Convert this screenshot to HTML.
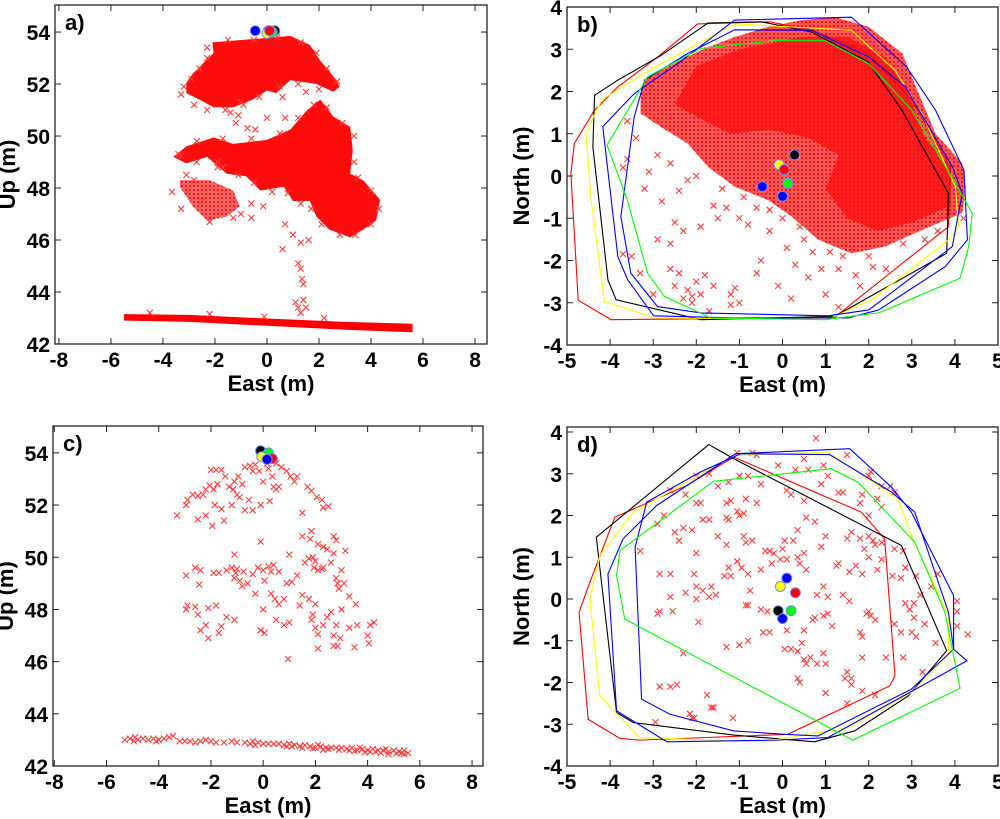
<!DOCTYPE html>
<html><head><meta charset="utf-8"><style>
html,body{margin:0;padding:0;background:#fff;}
svg{display:block;font-family:"Liberation Sans",Arial,sans-serif;}
.tk{font-size:21px;font-weight:bold;fill:#000;}
.at{font-size:22px;font-weight:bold;fill:#000;}
</style></head><body>
<svg id="chart" width="1000" height="819" viewBox="0 0 1000 819" xmlns="http://www.w3.org/2000/svg">
<defs>
<pattern id="xp" width="4" height="4" patternUnits="userSpaceOnUse"><path d="M0.5,0.5L3.5,3.5M3.5,0.5L0.5,3.5" stroke="#ff0000" stroke-width="0.9"/></pattern>
</defs>
</svg>
<script>
// ---------- Panel a (side view, dense) ----------
const aCrownTop=[[-2.1,53.6],[0.9,53.85],[1.65,53.5],[2.05,52.9],[2.55,52.3],[2.8,51.9],[2.55,51.7],[1.9,52.0],[0.9,52.15],[0.35,51.65],[0,51.75],[-0.55,51.4],[-1.3,51.1],[-2.05,51.1],[-2.6,51.4],[-3.1,51.65],[-3.1,52.05],[-2.85,52.4],[-2.45,52.8],[-2.05,53.2]];
const aCrownMid=[[-3.6,49.2],[-3.1,49.6],[-2.05,49.95],[-1.3,49.7],[0,49.85],[0.9,50.25],[1.55,51.0],[2.05,51.4],[2.55,50.75],[3.2,50.35],[3.3,49.45],[3.2,48.55],[3.7,48.3],[4.35,47.55],[4.2,46.75],[3.7,46.4],[3.2,46.1],[2.4,46.4],[1.9,46.9],[1.65,47.5],[1.0,47.5],[0.65,48.05],[-0.25,47.9],[-0.8,48.45],[-1.55,48.55],[-2.3,49.2],[-3.1,48.95]];
const aCrownLow=[[-3.35,48.3],[-2.2,48.3],[-1.3,47.9],[-1.05,47.3],[-1.55,46.9],[-2.3,46.75],[-2.85,47.3],[-3.35,48.05]];
const aGround=[[-5.5,43.15],[-3,43.12],[0,42.98],[3,42.85],[5.6,42.78],[5.6,42.45],[3,42.55],[0,42.7],[-3,42.85],[-5.5,42.9]];
const aPts=[[-3.65,47.85],[-3.3,47.2],[-3.1,48.5],[-2.8,48.3],[-2.5,47.5],[-1.0,47.0],[-0.6,46.85],[-1.3,46.85],[-2.2,46.7],[0.7,46.6],[1.0,46.2],[1.3,45.9],[1.6,46.0],[0.6,45.65],[-0.15,47.3],[-0.6,47.4],[-1.2,50.5],[-1.1,50.8],[-0.75,50.3],[-0.45,50.25],[0,50.7],[0.6,51.5],[0.7,50.7],[1.5,51.7],[-1.0,51.3],[-1.4,50.9],[-3.3,51.6],[-3.3,49.25],[-1.9,49.0],[-1.7,48.8],[1.2,45.1],[1.3,44.9],[1.35,44.5],[1.4,44.3],[1.1,43.6],[1.4,43.7],[1.5,43.4],[1.3,43.2],[1.2,43.4],[-4.5,43.2],[-2.2,43.15],[2.2,43.0],[-0.1,43.05],
[-2.3,53.0],[-2.6,52.6],[-2.9,52.2],[-3.2,51.9],[-2.8,51.2],[-2.3,51.0],[-1.6,51.0],[-0.9,51.2],[-0.3,51.5],[0.5,51.9],[1.2,52.0],[2.0,51.8],[2.7,52.1],[2.3,52.6],[1.9,53.2],[1.3,53.6],[0.4,53.8],[-0.5,53.7],[-1.5,53.7],[-2.3,53.4],
[-3.4,49.3],[-2.7,49.8],[-1.7,49.9],[-0.6,49.9],[0.5,50.1],[1.2,50.7],[1.8,51.2],[2.3,51.1],[2.9,50.5],[3.35,50.0],[3.35,49.0],[3.5,48.4],[4.0,47.9],[4.3,47.2],[4.0,46.6],[3.4,46.2],[2.8,46.2],[2.1,46.6],[1.7,47.2],[1.3,47.4],[0.8,47.8],[0.2,47.85],[-0.5,48.2],[-1.1,48.5],[-1.9,48.8],[-2.7,49.0]];
const aDots=[[-0.45,54.05,'#0000ff'],[0.05,54.05,'#0000ff'],[0.3,54.05,'#000000'],[0,53.95,'#ffff00'],[0.2,54.0,'#00ff00'],[0.1,54.05,'#ff0000']];

// ---------- Panel b (top view, dense) ----------
const bDense=[[-3.2,2.27],[-2.67,2.58],[-1.89,2.98],[-1.11,3.29],[-0.33,3.53],[0.44,3.69],[1.22,3.76],[2.0,3.53],[2.78,2.9],[3.16,1.95],[3.55,1.0],[4.17,0.3],[4.25,-0.25],[4.17,-0.88],[3.78,-1.04],[3.08,-1.35],[2.38,-1.67],[1.6,-1.83],[0.83,-1.51],[0.21,-0.96],[-0.33,-0.57],[-1.11,-0.25],[-1.73,0.22],[-2.2,0.77],[-2.82,1.16],[-3.29,1.48],[-3.29,1.95]];
const bCore=[[-2.0,2.6],[-1.0,3.0],[0.5,3.3],[1.5,3.3],[2.4,2.8],[2.9,2.0],[3.3,0.9],[3.9,0.2],[3.9,-0.7],[3.0,-1.1],[2.2,-1.3],[1.5,-1.0],[1.0,-0.3],[1.3,0.5],[0.6,0.9],[-0.3,1.1],[-1.2,1.0],[-1.8,1.3],[-2.5,1.7]];
const bPts=[[-2.2,-2.7],[-2.1,-2.85],[-1.2,-2.8],[-1.2,-3.05],[-2.4,-2.3],[-2.6,-2.2],[-1.8,-2.35],[-3.5,-1.9],[-3.7,-1.85],[-3.3,-2.3],[-2.9,-1.5],[-2.6,-1.6],[-2.3,-1.3],[-1.9,-1.2],[-1.5,-1.0],[-1.3,-0.75],[-1.0,-1.0],[-0.6,-0.75],[-0.8,-1.15],[-0.3,-0.8],[-2.8,-0.6],[-2.4,-0.35],[-3.2,-0.3],[-3.1,0.1],[-3.6,0.4],[-3.7,0.2],[-2.5,-2.6],[-1.6,-2.6],[-1.7,-3.2],[-1.0,-3.0],[-0.6,-2.3],[-0.5,-2.0],[-0.1,-2.6],[0.1,-1.7],[0.3,-2.1],[0.6,-2.4],[0.9,-2.2],[1.0,-2.8],[1.3,-2.2],[1.7,-2.35],[2.1,-2.15],[2.4,-2.2],[-2.1,-3.0],[-1.9,-2.8],[-3.0,-2.8],[-2.5,-1.1],[-2.2,-0.1],[-1.6,-0.7],[-2.0,-2.5],[-2.3,-2.9],[-1.1,-2.65],[-0.3,-1.3],[0.4,-1.2],[0.7,-1.8],[1.4,-1.9],[2.8,-1.6],[3.3,-1.5],[-3.4,0.9],[-3.6,1.3],[-2.9,0.5],[1.8,-2.6],[0.2,-2.9],[1.3,-3.1],[-2.6,0.3],[-2.0,0.0],[-1.4,-0.3],[-0.9,-0.5],[0.0,-1.0],[0.5,-1.5],[1.1,-1.8],[2.0,-1.9],[3.6,-1.3],[4.2,-1.0]];
const bDots=[[0.28,0.5,'#000000'],[-0.08,0.27,'#ffff00'],[0.04,0.15,'#ff0000'],[0.12,-0.17,'#00ff00'],[-0.47,-0.25,'#0000ff'],[0,-0.48,'#0000ff']];
const bHullRed=[[-1.97,3.6],[-0.3,3.65],[0.7,3.45],[2.0,2.9],[3.0,1.8],[3.9,0.2],[3.85,-1.2],[1.2,-3.35],[-3.98,-3.4],[-4.74,-2.94],[-4.91,0.06],[-4.83,0.77],[-4.36,1.56],[-3.82,2.11],[-2.89,2.82]];
const bHullBlack=[[-4.36,1.91],[-3.82,2.27],[-2.81,2.86],[-1.73,3.62],[-0.49,3.65],[0.67,3.41],[1.99,2.7],[2.77,1.56],[3.85,-0.41],[3.81,-1.83],[1.22,-3.32],[-1.89,-3.4],[-3.86,-2.93],[-4.05,-2.46],[-4.4,0.69]];
const bHullYellow=[[-4.2,1.8],[-2.96,2.58],[-1.11,3.6],[1.6,3.45],[2.61,2.5],[3.23,1.48],[4.01,-0.25],[4.09,-1.2],[3.85,-1.51],[2.07,-2.93],[1.06,-3.39],[-2.97,-3.36],[-4.13,-2.97],[-4.44,-0.57],[-4.56,1.0]];
const bHullBlue1=[[-1.11,3.69],[1.6,3.76],[2.88,2.58],[3.55,1.56],[4.21,0.14],[4.29,-1.51],[3.78,-2.14],[2.23,-3.17],[1.53,-3.36],[-1.11,-3.36],[-2.99,-3.31],[-3.59,-2.46],[-3.82,-1.91],[-4.17,1.17],[-3.44,1.95],[-2.43,2.66]];
const bHullBlue2=[[-3.2,2.27],[-3.44,1.4],[-3.75,-0.96],[-3.52,-2.3],[-2.9,-3.09],[-1.89,-3.24],[1.06,-3.31],[2.0,-3.17],[3.94,-1.67],[4.17,-0.41],[3.94,0.22],[2.85,2.11],[2.0,2.82],[0.67,3.45],[-1.11,3.46],[-2.2,2.9]];
const bHullGreen=[[-4.07,0.73],[-3.13,2.35],[-1.89,3.02],[-0.1,3.21],[0.98,3.21],[2.0,2.66],[3.0,1.56],[4.01,-0.17],[4.4,-0.88],[4.32,-1.67],[4.12,-2.42],[2.23,-3.24],[0.98,-3.4],[-1.66,-3.36],[-2.74,-2.85],[-3.13,-2.3],[-3.6,-0.57]];

// ---------- Panel c (side view, sparse) ----------
const cPts=[[-3.3,51.6],[-2.95,52.0],[-2.9,52.2],[-2.7,52.4],[-2.5,52.35],[-2.3,52.4],[-2.2,52.6],[-2.05,52.75],[-1.9,52.6],[-1.75,52.8],[-2.0,53.35],[-1.8,53.35],[-1.6,53.35],[-1.45,53.1],[-1.3,52.7],[-1.15,52.6],[-1.0,52.4],[-0.9,52.3],[-0.7,53.45],[-0.5,53.5],[-0.3,53.55],[-0.15,53.3],[0.0,52.9],[0.2,53.4],[0.35,53.1],[0.5,52.6],[0.7,53.45],[0.9,53.3],[1.05,53.1],[1.2,52.9],[1.3,53.1],[1.7,52.7],[1.85,52.55],[2.05,52.3],[2.25,52.2],[2.3,51.9],[2.5,51.95],[1.5,51.7],[-2.5,51.45],[-2.2,51.6],[-1.95,51.2],[-1.5,51.4],[-1.2,52.0],[-0.7,51.8],[-0.4,51.8],[-0.1,52.0],[0.25,52.15],[-0.55,52.2],[-1.85,52.0],[-1.6,51.85],[-0.8,52.8],[-0.4,53.3],[0.6,52.7],[0.4,52.7],[0.15,53.6],[0.5,53.6],[-1.1,52.9],[-0.95,53.1],
[-2.95,49.3],[-2.6,49.6],[-2.4,49.5],[-2.45,48.95],[-1.9,49.4],[-1.7,49.4],[-1.4,49.5],[-1.2,49.6],[-1.05,49.4],[-0.9,49.1],[-1.1,49.2],[-0.8,48.9],[-0.6,49.0],[-0.4,49.35],[-0.2,49.6],[0,49.5],[0.2,49.65],[0.4,49.7],[0.6,49.45],[0.05,49.1],[0.3,48.6],[0.45,48.4],[0.6,48.2],[0.8,48.4],[0.9,49.0],[1.1,49.05],[1.3,49.3],[1.5,48.55],[1.6,49.8],[1.75,49.95],[1.9,50.0],[1.95,49.6],[2.1,49.5],[2.3,49.6],[2.45,50.3],[2.6,49.8],[2.7,50.15],[2.85,49.0],[2.9,48.8],[3.0,49.5],[3.15,50.25],[3.1,49.0],[3.3,48.5],[1.5,50.8],[1.85,51.0],[1.8,50.7],[2.1,50.5],[2.3,50.4],[2.7,50.8],[2.8,50.65],[1.0,50.1],[-0.1,50.6],[-1.1,50.1],[-0.3,48.6],[0.0,48.0],[0.5,47.6],[0.8,47.4],[1.0,47.5],[1.4,48.15],[1.75,48.4],[1.9,47.8],[1.85,47.6],[2.0,47.3],[2.1,47.05],[2.3,47.4],[2.45,47.7],[2.6,47.9],[2.7,47.0],[2.8,47.4],[2.95,46.9],[2.85,46.6],[2.7,46.6],[2.1,46.5],[3.5,46.55],[3.3,47.3],[3.6,47.4],[3.55,48.2],[3.0,48.0],[4.0,47.0],[4.05,46.7],[4.1,47.4],[4.25,47.5],[2.0,48.2],[0.95,46.1],[-0.1,47.2],[0.05,47.1],[-2.95,48.0],[-2.6,48.1],[-2.5,47.8],[-2.1,48.05],[-1.8,48.15],[-2.4,47.2],[-2.2,47.4],[-2.1,46.9],[-1.7,47.1],[-1.6,47.35],[-1.4,47.7],[-1.1,47.6],[-2.9,48.15],[-1.0,49.55],[-0.75,49.45],[0.3,49.45],[2.25,49.55],[2.8,49.2],[2.0,49.85],
[-5.3,43.0],[-5.1,43.05],[-4.9,43.1],[-4.8,43.0],[-4.6,43.05],[-4.4,43.0],[-4.2,43.05],[-4.0,43.0],[-3.8,43.05],[-3.6,43.1],[-3.45,43.15],[-3.2,42.95],[-3.0,42.95],[-2.8,42.95],[-2.6,42.9],[-2.4,42.95],[-2.2,43.0],[-2.0,42.95],[-1.8,42.9],[-1.5,42.9],[-1.2,42.95],[-1.0,42.9],[-0.7,42.9],[-0.4,42.95],[-0.2,42.9],[0,42.85],[0.2,42.85],[0.4,42.85],[0.6,42.85],[0.8,42.8],[1.0,42.85],[1.2,42.8],[1.4,42.75],[1.6,42.8],[1.8,42.75],[2.0,42.7],[2.2,42.75],[2.4,42.7],[2.6,42.7],[2.8,42.7],[3.0,42.7],[3.2,42.65],[3.4,42.7],[3.6,42.6],[3.8,42.65],[4.0,42.6],[4.2,42.65],[4.4,42.6],[4.6,42.6],[4.8,42.55],[5.0,42.6],[5.2,42.55],[5.4,42.6],[5.55,42.5],[1.1,42.75],[2.3,42.62],[3.5,42.58],[4.5,42.5],[5.1,42.48],[-0.5,42.85],[1.9,42.68],[2.9,42.62],[4.1,42.55],[4.8,42.45],[5.4,42.45],[3.9,42.52],[-4.95,42.95],[-4.1,42.95],[-0.3,42.8],[0.9,42.75],[1.5,42.7],[2.5,42.65],[3.3,42.6],[4.3,42.55],[5.3,42.5],[4.7,42.65],[3.7,42.7],[2.1,42.8]];
const cDots=[[-0.1,54.08,'#000000'],[0.2,54.0,'#00ff00'],[-0.05,53.85,'#ffff00'],[0.35,53.78,'#ff0000'],[0.15,53.75,'#0000ff']];

// ---------- Panel d (top view, sparse) ----------
const dPts=[[0.78,3.85],[-1.05,3.5],[-0.7,3.5],[-0.6,3.45],[1.5,3.45],[0.5,3.35],[0.3,3.1],[-0.1,3.2],[0.6,3.1],[0.95,3.2],[2.05,3.05],[2.0,2.95],[1.05,2.95],[-1.0,2.95],[-0.8,2.95],[-1.25,2.8],[-0.5,2.75],[-2.0,2.95],[-1.7,3.0],[-2.25,2.5],[-1.5,2.7],[-1.2,2.35],[-1.3,2.3],[-0.85,2.4],[-0.6,2.3],[0.1,2.6],[0.2,2.5],[0.5,2.35],[0.9,2.75],[1.3,2.55],[1.4,2.55],[1.85,2.5],[2.3,2.7],[2.5,2.7],[2.6,2.55],[2.2,2.4],[1.8,2.3],[2.0,2.0],[2.3,2.2],[-2.0,2.3],[-1.9,2.3],[-2.6,2.6],[-1.3,1.95],[-1.25,1.9],[-1.0,2.0],[-1.05,2.1],[-0.9,2.05],[-1.7,1.9],[-1.85,1.9],[-2.75,2.0],[-2.9,1.8],[-2.5,1.6],[-2.3,1.7],[-2.1,1.65],[-2.4,1.4],[-1.5,1.5],[-1.3,1.3],[-0.9,1.5],[-0.85,1.35],[-0.7,1.4],[-0.3,1.15],[-0.2,1.1],[0.05,1.4],[0.25,1.4],[0.0,1.2],[0.55,1.95],[0.35,1.65],[0.75,1.85],[0.9,1.25],[0.5,1.1],[1.0,1.5],[1.5,1.45],[1.6,1.6],[1.8,1.45],[2.0,1.5],[2.1,1.4],[2.15,1.3],[2.3,1.35],[2.6,1.2],[2.8,1.15],[2.3,0.95],[1.9,1.2],[2.0,1.0],[1.7,0.8],[1.85,0.6],[2.2,0.7],[2.55,0.55],[2.75,0.5],[2.85,0.75],[3.1,0.55],[3.6,0.6],[3.45,0.3],[3.2,0.1],[3.05,-0.1],[2.85,-0.1],[2.95,-0.25],[3.05,-0.45],[3.3,-0.6],[3.0,-0.8],[2.75,-0.8],[2.6,-0.6],[3.1,-0.9],[3.55,-1.05],[4.05,-0.05],[4.05,-0.3],[4.05,-0.65],[4.3,-0.85],[2.4,-1.4],[2.8,-1.4],[3.25,-1.75],[1.85,-1.4],[1.85,-0.9],[1.8,-0.8],[2.05,-0.4],[2.15,-0.5],[2.0,-0.3],[1.95,-0.35],[1.55,-0.05],[1.4,0.1],[1.05,0.05],[0.95,0.3],[0.8,0.1],[0.55,0.7],[0.4,0.85],[0.35,1.0],[-0.05,0.95],[0.1,0.95],[-0.25,0.85],[-0.4,1.15],[-0.5,0.7],[-0.8,0.6],[-0.95,0.75],[-1.05,0.9],[-1.25,0.75],[-1.35,0.55],[-1.65,0.3],[-1.55,0.1],[-1.7,0.05],[-2.0,0.3],[-2.05,0.6],[-2.0,1.1],[-2.25,0.15],[-2.6,0.05],[-2.6,0.6],[-2.85,0.6],[-2.85,-0.3],[-3.3,1.15],[-0.75,0.2],[-0.8,-0.15],[-0.5,-0.25],[-0.35,-0.3],[-0.3,-0.8],[0.1,-0.75],[0.05,-1.2],[0.2,-1.2],[0.35,-1.25],[0.5,-1.45],[0.55,-1.55],[0.7,-0.5],[0.75,-0.45],[0.65,-1.4],[0.8,-1.55],[0.95,-1.3],[1.0,-1.55],[0.95,-0.4],[1.05,-0.35],[1.15,-0.65],[0.45,-1.05],[0.5,-0.75],[0.35,-1.9],[0.4,-2.0],[1.0,-2.25],[1.45,-1.9],[1.5,-1.75],[1.5,-2.5],[1.6,-2.05],[1.85,-2.2],[1.6,-1.9],[2.15,-2.3],[-1.0,-1.1],[-1.3,-1.15],[-0.8,-1.0],[-0.45,-0.8],[-2.3,-1.3],[-2.85,-2.1],[-2.6,-2.1],[-2.45,-2.05],[-1.75,-2.3],[-1.65,-2.6],[-1.6,-2.6],[-2.15,-2.75],[-2.1,-2.85],[-2.05,-2.85],[-1.15,-2.85],[-2.95,-2.95],[-2.9,-0.35],[-2.55,-0.3],[-1.95,-0.55],[-2.0,0.0],[-1.85,0.2],[-0.85,-0.15],[-1.2,0.55],[1.55,0.65],[1.25,0.8],[1.3,0.85]];
const dDots=[[0.1,0.5,'#0000ff'],[-0.05,0.3,'#ffff00'],[0.3,0.15,'#ff0000'],[-0.1,-0.28,'#000000'],[0.2,-0.28,'#00ff00'],[0,-0.47,'#0000ff']];
const dHullBlack=[[-1.71,3.7],[-4.32,1.48],[-3.85,-2.72],[-3.46,-2.96],[-1.13,-3.26],[0.74,-3.42],[1.67,-3.16],[2.92,-2.32],[3.81,-1.24],[2.76,1.28],[-1.13,3.36]];
const dHullRed=[[-3.89,1.96],[-2.22,2.72],[-1.13,3.4],[1.83,2.08],[2.37,1.44],[2.61,-1.84],[2.49,-2.08],[0.12,-3.24],[-3.31,-3.38],[-3.77,-3.34],[-4.51,-2.88],[-4.72,-0.32],[-4.47,0.4]];
const dHullYellow=[[-3.46,2.08],[-1.13,3.44],[1.05,3.52],[2.68,2.4],[2.99,1.52],[3.85,-0.4],[3.85,-1.36],[2.99,-2.24],[1.52,-3.08],[-0.43,-3.42],[-3.31,-3.32],[-4.24,-2.32],[-4.47,0.0],[-4.24,1.04]];
const dHullBlue1=[[-1.09,3.48],[1.56,3.6],[2.53,2.68],[2.99,2.08],[3.97,0.08],[3.97,-1.2],[4.28,-1.48],[1.05,-3.32],[-0.12,-3.38],[-2.68,-3.42],[-3.85,-2.68],[-4.05,0.6],[-3.7,1.44],[-2.92,2.24]];
const dHullBlue2=[[-3.15,2.32],[-3.42,1.24],[-3.27,-2.4],[-2.61,-2.76],[-1.13,-3.16],[0.04,-3.24],[0.82,-3.28],[2.99,-2.16],[3.97,-1.2],[3.85,-0.32],[3.07,2.08],[2.53,2.56],[1.09,3.46],[-0.97,3.48],[-1.91,3.04]];
const dHullGreen=[[-1.6,2.82],[1.13,3.12],[1.75,2.8],[3.07,1.36],[3.77,-0.32],[4.12,-2.14],[1.63,-3.38],[-3.66,-0.48],[-3.85,0.56],[-3.77,1.16]];

// tick labels
const sideXTicks=[-8,-6,-4,-2,0,2,4,6,8];
const sideYTicks=[42,44,46,48,50,52,54];
const topXTicks=[-5,-4,-3,-2,-1,0,1,2,3,4,5];
const topYTicks=[-4,-3,-2,-1,0,1,2,3,4];

const NS='http://www.w3.org/2000/svg';
const svg=document.getElementById('chart');
function mk(tag,attrs,parent){const e=document.createElementNS(NS,tag);for(const k in attrs)e.setAttribute(k,attrs[k]);(parent||svg).appendChild(e);return e;}

function panel(p){
  const g=mk('g',{});
  
  
  const sx=v=>p.L+(v-p.x0)/(p.x1-p.x0)*(p.R-p.L);
  const sy=v=>p.B-(v-p.y0)/(p.y1-p.y0)*(p.B-p.T);
  p.sx=sx;p.sy=sy;
  const cp=mk('clipPath',{id:'clip-'+p.id},svg.querySelector('defs'));
  mk('rect',{x:p.L,y:p.T,width:p.R-p.L,height:p.B-p.T},cp);
  const plot=mk('g',{'clip-path':'url(#clip-'+p.id+')'},g);
  
  
  p.plot=plot;p.g=g;
  return p;
}
function axes(p,xt,yt,xTitle,yTitle,label){
  const g=p.g;
  const box=mk('rect',{x:p.L,y:p.T,width:p.R-p.L,height:p.B-p.T,fill:'none',stroke:'#222','stroke-width':1.3},g);
  
  
  xt.forEach(v=>{
    const x=p.sx(v);
    mk('line',{x1:x,x2:x,y1:p.B,y2:p.B-6,stroke:'#222'},g);
    mk('line',{x1:x,x2:x,y1:p.T,y2:p.T+6,stroke:'#222'},g);
    const t=mk('text',{x:x,y:p.B+23,'text-anchor':'middle',class:'tk'},g);
    t.textContent=v<0?'-'+Math.abs(v):String(v);
    
    
  });
  yt.forEach(v=>{
    const y=p.sy(v);
    mk('line',{x1:p.L,x2:p.L+6,y1:y,y2:y,stroke:'#222'},g);
    mk('line',{x1:p.R,x2:p.R-6,y1:y,y2:y,stroke:'#222'},g);
    const t=mk('text',{x:p.L-5,y:y+8,'text-anchor':'end',class:'tk'},g);
    t.textContent=v<0?'-'+Math.abs(v):String(v);
    
    
  });
  const xtl=mk('text',{x:(p.L+p.R)/2,y:p.B+47,'text-anchor':'middle',class:'at'},g);
  xtl.textContent=xTitle;
  
  
  const cx=p.L-(p.side?40:38), cy=(p.T+p.B)/2;
  const ytl=mk('text',{x:cx,y:cy,'text-anchor':'middle',class:'at',transform:'rotate(-90 '+cx+' '+cy+')'},g);
  ytl.textContent=yTitle;
  
  
  const pl=mk('text',{x:p.L+10,y:p.T+25,class:'at'},g);
  pl.textContent=label;
  
  
}
function poly(p,pts,fill,op,name){
  const e=mk('polygon',{points:pts.map(q=>p.sx(q[0])+','+p.sy(q[1])).join(' '),fill:fill,'fill-opacity':op,stroke:'none'},p.plot);
  
  
}
function hull(p,pts,color,name){
  const e=mk('polygon',{points:pts.map(q=>p.sx(q[0])+','+p.sy(q[1])).join(' '),fill:'none',stroke:color,'stroke-width':1.1},p.plot);
  
  
}
function pts(p,arr,name){
  arr.forEach(q=>{
    const x=p.sx(q[0]),y=p.sy(q[1]);
    const e=mk('path',{d:'M'+(x-3)+','+(y-3)+'l6,6m0,-6l-6,6',stroke:'#ff3b3b','stroke-width':1.1,fill:'none'},p.plot);
    
    
  });
}
function dots(p,arr,name){
  arr.forEach(q=>{
    const e=mk('circle',{cx:p.sx(q[0]),cy:p.sy(q[1]),r:5,fill:q[2],stroke:'#6f8fff','stroke-width':1},p.plot);
    
    
  });
}

// Panel a
const pa=panel({id:'a',L:55,R:487,T:5,B:344,x0:-8.15,x1:8.46,y0:42,y1:55.04,side:true});
poly(pa,aCrownLow,'#ff5050',0.6,'crown-lower-cloud');
poly(pa,aCrownLow,'url(#xp)',1,'crown-lower-texture');
poly(pa,aCrownTop,'#ff0000',0.95,'crown-top-cloud');
poly(pa,aCrownMid,'#ff0000',0.95,'crown-mid-cloud');
poly(pa,aGround,'#ff0000',1,'ground-points');
pts(pa,aPts,'lidar-point');
dots(pa,aDots,'treetop-estimate');
axes(pa,sideXTicks,sideYTicks,'East (m)','Up (m)','a)');

// Panel b
const pb=panel({id:'b',L:567,R:998,T:7,B:345,x0:-5,x1:5,y0:-4,y1:4});
poly(pb,bDense,'#ff4040',0.65,'crown-cloud');
poly(pb,bDense,'url(#xp)',1,'crown-cloud-texture');
poly(pb,bCore,'#ff1010',0.8,'crown-core-cloud');
pts(pb,bPts,'lidar-point');
hull(pb,bHullRed,'#ff0000','hull-red');
hull(pb,bHullBlack,'#000000','hull-black');
hull(pb,bHullYellow,'#ffff00','hull-yellow');
hull(pb,bHullBlue1,'#0000ff','hull-blue-outer');
hull(pb,bHullBlue2,'#0000ff','hull-blue-inner');
hull(pb,bHullGreen,'#00ff00','hull-green');
dots(pb,bDots,'treetop-estimate');
axes(pb,topXTicks,topYTicks,'East (m)','North (m)','b)');

// Panel c
const pc=panel({id:'c',L:53,R:483,T:426,B:766,x0:-8.05,x1:8.42,y0:42,y1:55.03,side:true});
pts(pc,cPts,'lidar-point');
dots(pc,cDots,'treetop-estimate');
axes(pc,sideXTicks,sideYTicks,'East (m)','Up (m)','c)');

// Panel d
const pd=panel({id:'d',L:567,R:998,T:427,B:766,x0:-5,x1:5,y0:-4,y1:4.12});
pts(pd,dPts,'lidar-point');
hull(pd,dHullRed,'#ff0000','hull-red');
hull(pd,dHullBlack,'#000000','hull-black');
hull(pd,dHullYellow,'#ffff00','hull-yellow');
hull(pd,dHullBlue1,'#0000ff','hull-blue-outer');
hull(pd,dHullBlue2,'#0000ff','hull-blue-inner');
hull(pd,dHullGreen,'#00ff00','hull-green');
dots(pd,dDots,'treetop-estimate');
axes(pd,topXTicks,topYTicks,'East (m)','North (m)','d)');
</script>
</body></html>
